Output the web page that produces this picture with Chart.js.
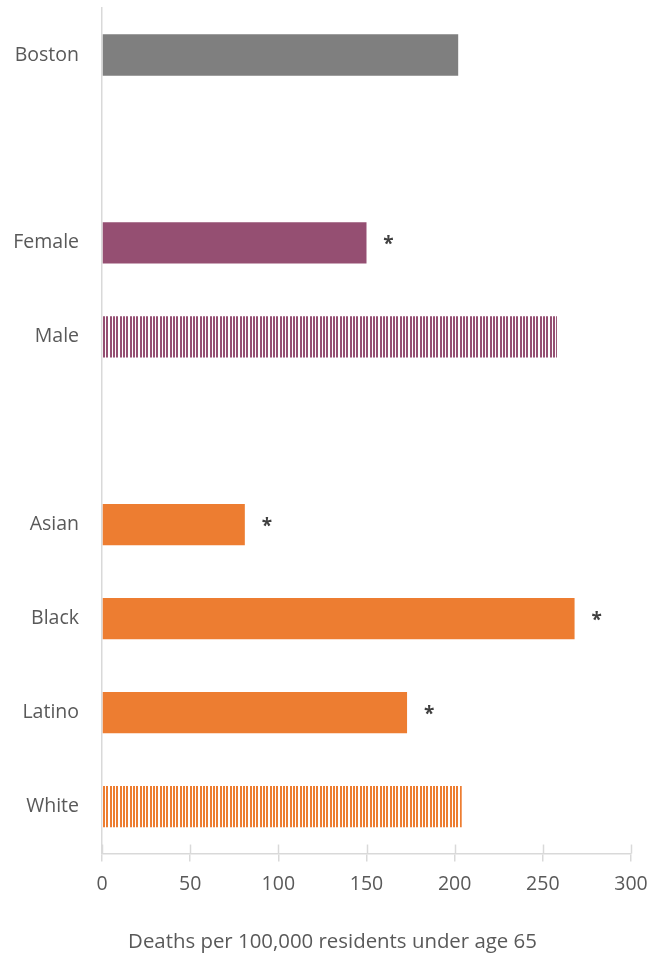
<!DOCTYPE html>
<html>
<head>
<meta charset="utf-8">
<script src="https://cdn.jsdelivr.net/npm/chart.js@4/dist/chart.umd.min.js"></script>
<style>
  html, body { margin: 0; padding: 0; background: #ffffff; }
  #wrap { width: 665px; height: 961px; position: relative; }
</style>
</head>
<body>
<div id="wrap"><canvas id="c" width="665" height="961"></canvas></div>
<script>
// ---- data ----
const categories = ['Boston', '', 'Female', 'Male', '', 'Asian', 'Black', 'Latino', 'White'];
const deathRates = [202, null, 150, 258, null, 81, 268, 173, 204];
const significant = [false, false, true, false, false, true, true, true, false];
const groups = ['all', 'none', 'sex', 'sex', 'none', 'race', 'race', 'race', 'race'];
const striped = [false, false, false, true, false, false, false, false, true];
const xTicks = [0, 50, 100, 150, 200, 250, 300];
const axisTitle = 'Deaths per 100,000 residents under age 65';

const groupColors = { all: '#7f7f7f', sex: '#954f72', race: '#ed7d31', none: '#ffffff' };

function stripePattern(color) {
  const c = document.createElement('canvas');
  c.width = 10; c.height = 4;
  const g = c.getContext('2d');
  g.fillStyle = '#ffffff';
  g.fillRect(0, 0, 10, 4);
  g.fillStyle = color;
  g.fillRect(0, 0, 2, 4);
  g.fillRect(3, 0, 2, 4);
  g.fillRect(6, 0, 2, 4);
  return g.createPattern(c, 'repeat');
}

const fills = categories.map((_, i) => {
  const col = groupColors[groups[i]];
  return striped[i] ? stripePattern(col) : col;
});

const FONT = "'Open Sans', 'DejaVu Sans', sans-serif";
const TEXT = '#595959';
const AXIS = '#d9d9d9';

const asteriskPlugin = {
  id: 'asterisks',
  afterDatasetsDraw(chart) {
    const meta = chart.getDatasetMeta(0);
    const ctx = chart.ctx;
    ctx.save();
    ctx.fillStyle = '#404040';
    ctx.font = "bold 19px " + FONT;
    ctx.textAlign = 'center';
    ctx.textBaseline = 'middle';
    meta.data.forEach((el, i) => {
      if (significant[i] && deathRates[i] != null) {
        ctx.fillText('*', el.x + 22, el.y + 2);
      }
    });
    ctx.restore();
  }
};

const crossTickPlugin = {
  id: 'crossTicks',
  afterDraw(chart) {
    const xs = chart.scales.x;
    const ctx = chart.ctx;
    const bottom = chart.chartArea.bottom;
    ctx.save();
    ctx.strokeStyle = AXIS;
    ctx.lineWidth = 1.5;
    xTicks.forEach(v => {
      const x = Math.round(xs.getPixelForValue(v)) + 0.5;
      ctx.beginPath();
      ctx.moveTo(x, bottom - 9);
      ctx.lineTo(x, bottom);
      ctx.stroke();
    });
    ctx.restore();
  }
};

new Chart(document.getElementById('c'), {
  type: 'bar',
  data: {
    labels: categories,
    datasets: [{
      data: deathRates,
      backgroundColor: fills,
      borderWidth: 0,
      barPercentage: 0.44,
      categoryPercentage: 1.0
    }]
  },
  options: {
    indexAxis: 'y',
    responsive: false,
    animation: false,
    layout: { padding: { left: 0, right: 0, top: 8, bottom: 0 } },
    plugins: {
      legend: { display: false },
      tooltip: { enabled: false },
      title: {
        display: true,
        position: 'bottom',
        text: axisTitle,
        color: TEXT,
        font: { family: FONT, size: 20.4, weight: 'normal' },
        padding: { top: 0, bottom: 7 }
      }
    },
    scales: {
      x: {
        min: 0,
        max: 300,
        afterBuildTicks(scale) { scale.ticks = xTicks.map(v => ({ value: v })); },
        grid: { display: true, drawOnChartArea: false, drawTicks: true, tickLength: 8, color: AXIS, lineWidth: 1.5 },
        border: { display: true, color: AXIS, width: 1.5 },
        ticks: { color: TEXT, font: { family: FONT, size: 19.5 }, padding: 11, maxRotation: 0 },
        afterFit(scale) { scale.height = 930 - 854; scale.paddingLeft = 0; scale.paddingRight = 34; }
      },
      y: {
        grid: { display: false },
        border: { display: true, color: AXIS, width: 1.5 },
        ticks: { color: TEXT, font: { family: FONT, size: 19.5 }, padding: 15 },
        afterFit(scale) { scale.width = 102; scale.paddingTop = 0; scale.paddingBottom = 0; }
      }
    }
  },
  plugins: [asteriskPlugin, crossTickPlugin]
});
</script>
</body>
</html>
